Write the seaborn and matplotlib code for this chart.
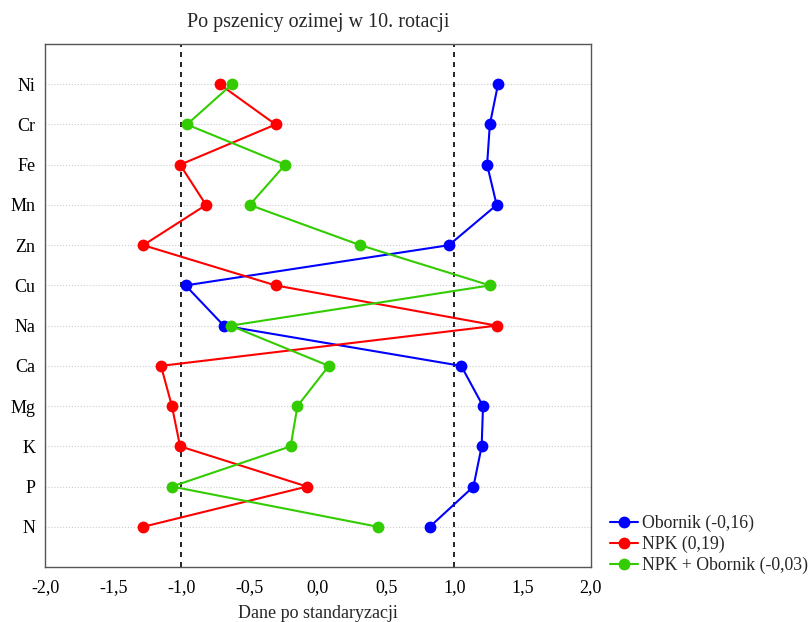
import numpy as np
import pandas as pd
import matplotlib
matplotlib.use('Agg')
import matplotlib.pyplot as plt
import seaborn as sns
from matplotlib.ticker import FuncFormatter

sns.set_style('white')
plt.rcParams['font.family'] = ['Liberation Serif', 'DejaVu Serif']

# Pierwiastki (od dołu do góry)
pierwiastki = ['N', 'P', 'K', 'Mg', 'Ca', 'Na', 'Cu', 'Zn', 'Mn', 'Fe', 'Cr', 'Ni']

obornik = [0.82, 1.14, 1.20, 1.21, 1.05, -0.69, -0.97, 0.96, 1.31, 1.24, 1.26, 1.32]
npk = [-1.28, -0.08, -1.01, -1.07, -1.15, 1.31, -0.31, -1.28, -0.82, -1.01, -0.31, -0.72]
npk_obornik = [0.44, -1.07, -0.20, -0.15, 0.08, -0.64, 1.26, 0.31, -0.50, -0.24, -0.96, -0.63]

serie = ['Obornik (-0,16)', 'NPK (0,19)', 'NPK + Obornik (-0,03)']
kolory = ['#0000ff', '#ff0000', '#33cc00']

poz = np.arange(len(pierwiastki))
df = pd.concat([
    pd.DataFrame({'poz': poz, 'wartosc': vals, 'seria': nazwa})
    for nazwa, vals in zip(serie, [obornik, npk, npk_obornik])
], ignore_index=True)

fig = plt.figure(figsize=(8.11, 6.22), dpi=100)
ax = fig.add_axes([0.0555, 0.0884, 0.673, 0.8408])

sns.lineplot(data=df, x='wartosc', y='poz', hue='seria', palette=kolory,
             orient='y', sort=False, marker='o', markersize=8.5, markeredgewidth=0,
             linewidth=1.5, ax=ax, zorder=3)

ax.axvline(-1, color='black', linestyle=(0, (3, 3)), linewidth=1.2, zorder=2)
ax.axvline(1, color='black', linestyle=(0, (3, 3)), linewidth=1.2, zorder=2)

ax.set_xlim(-2, 2)
ax.set_ylim(-1, len(pierwiastki))
ax.set_yticks(poz)
ax.set_yticklabels(pierwiastki)
ax.set_xticks(np.arange(-2, 2.01, 0.5))
ax.xaxis.set_major_formatter(FuncFormatter(lambda v, p: f'{v:.1f}'.replace('.', ',')))
ax.yaxis.grid(True, color='#cccccc', linestyle=':', linewidth=0.8)
ax.xaxis.grid(False)
ax.tick_params(direction='in', length=4, labelsize=13, colors='black')
ax.tick_params(axis='y', pad=7)
ax.tick_params(axis='x', pad=9)
for s in ax.spines.values():
    s.set_color('#555555')
    s.set_linewidth(1.0)

ax.set_title('Po pszenicy ozimej w 10. rotacji', fontsize=14.5, pad=12)
ax.set_xlabel('Dane po standaryzacji', fontsize=13, labelpad=6)
ax.set_ylabel('')

ax.legend(loc='lower left', bbox_to_anchor=(1.012, -0.037), frameon=False,
          fontsize=12.8, handlelength=1.6, handletextpad=0.2, labelspacing=0.2,
          borderaxespad=0.3)

fig.savefig('out.png', dpi=100)
